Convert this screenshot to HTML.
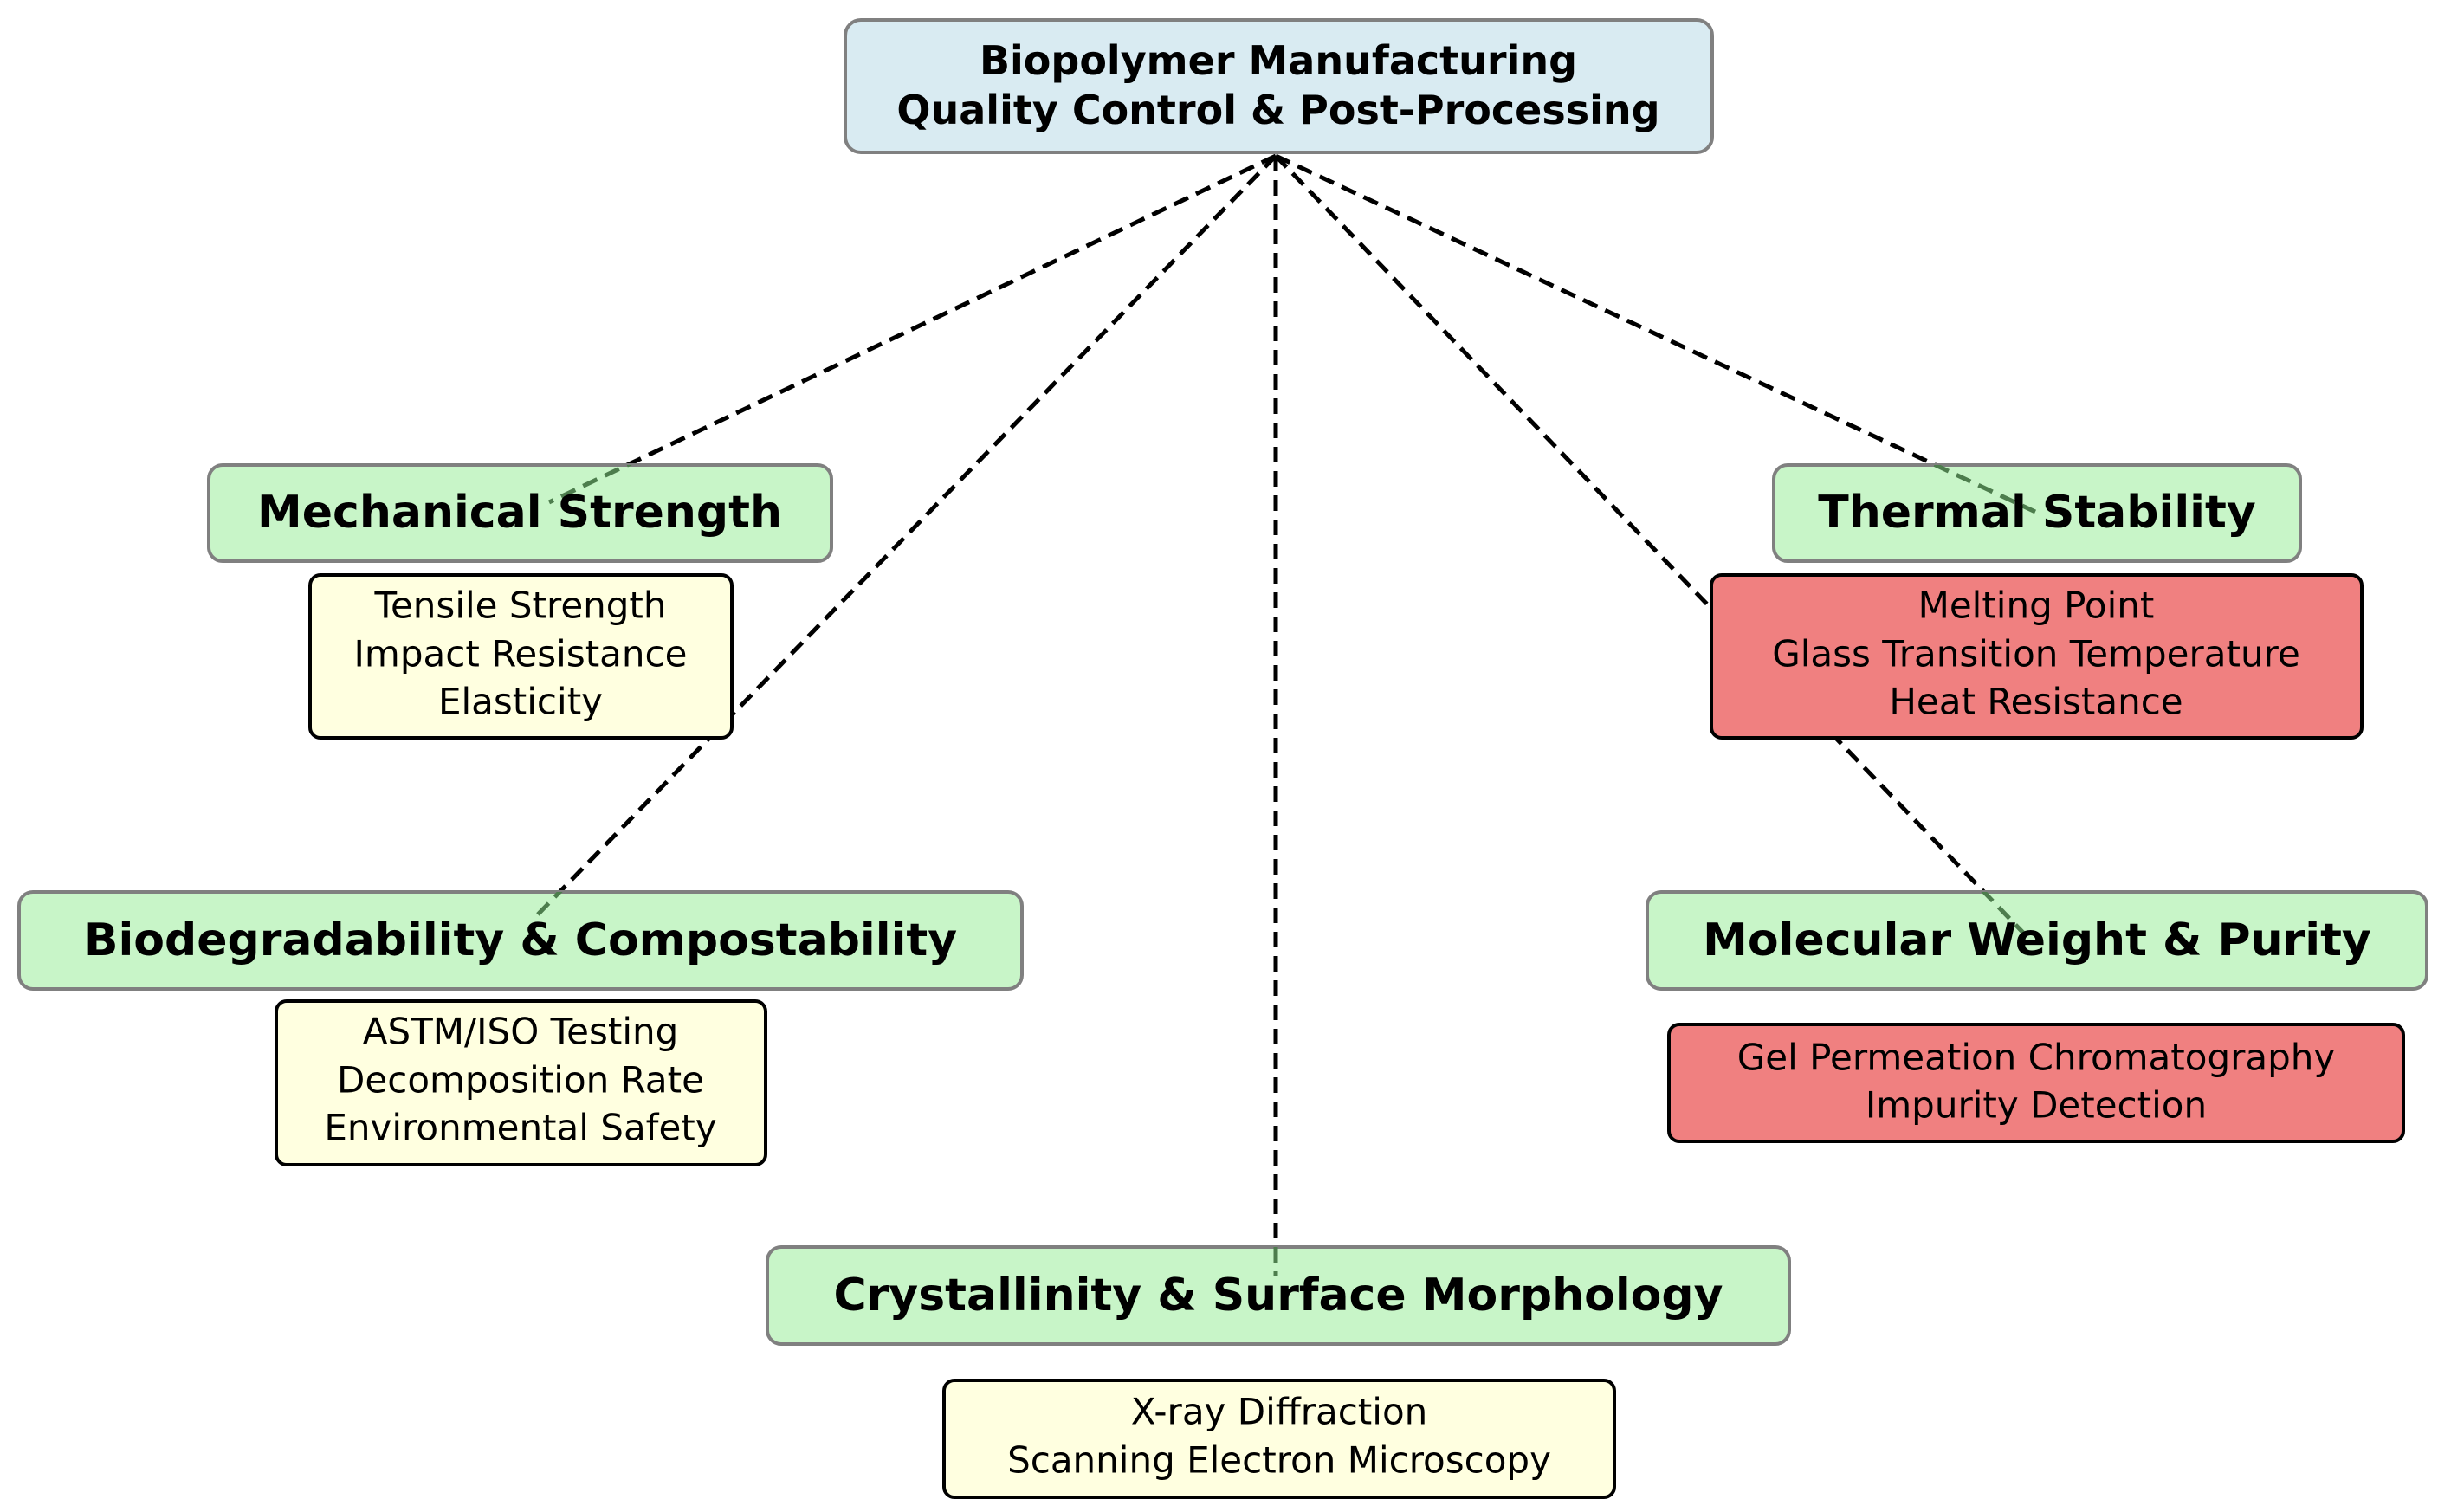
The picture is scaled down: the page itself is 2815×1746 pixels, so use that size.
<!DOCTYPE html>
<html><head><meta charset="utf-8"><style>
html,body{margin:0;padding:0;background:#fff}
svg{display:block}
text{font-family:"DejaVu Sans","Liberation Sans",sans-serif;text-anchor:middle;dominant-baseline:central}
.b{font-weight:bold}
</style></head><body>
<svg width="2815" height="1746" viewBox="0 0 2815 1746" xmlns="http://www.w3.org/2000/svg">
<defs>
<clipPath id="c1"><rect x="241" y="537" width="719" height="111" rx="16"/></clipPath>
<clipPath id="c2"><rect x="22" y="1030" width="1158" height="112" rx="16"/></clipPath>
<clipPath id="c3"><rect x="886" y="1440" width="1180" height="112" rx="16"/></clipPath>
<clipPath id="c4"><rect x="2048" y="537" width="608" height="111" rx="16"/></clipPath>
<clipPath id="c5"><rect x="1902" y="1030" width="900" height="112" rx="16"/></clipPath>
</defs>
<g stroke="#000" stroke-width="5" stroke-dasharray="18,10" fill="none">
<line x1="1473" y1="180" x2="634" y2="580"/>
<line x1="1473" y1="180" x2="618" y2="1059"/>
<line x1="1473" y1="180" x2="1473" y2="1473"/>
<line x1="1473" y1="180" x2="2350" y2="591"/>
<line x1="1473" y1="180" x2="2336" y2="1077"/>
</g>
<!-- top -->
<rect x="976" y="23" width="1001" height="153" rx="18" fill="#d9ebf2" stroke="#808080" stroke-width="4"/>
<text class="b" x="1476" y="70" font-size="46">Biopolymer Manufacturing</text>
<text class="b" x="1476" y="127" font-size="46">Quality Control &amp; Post-Processing</text>
<!-- green boxes -->
<g fill="#c8f5c8" stroke="#808080" stroke-width="4">
<rect x="241" y="537" width="719" height="111" rx="16"/>
<rect x="22" y="1030" width="1158" height="112" rx="16"/>
<rect x="886" y="1440" width="1180" height="112" rx="16"/>
<rect x="2048" y="537" width="608" height="111" rx="16"/>
<rect x="1902" y="1030" width="900" height="112" rx="16"/>
</g>
<g stroke="#4d7d4d" stroke-width="5" stroke-dasharray="18,10" fill="none">
<line clip-path="url(#c1)" x1="1473" y1="180" x2="634" y2="580"/>
<line clip-path="url(#c2)" x1="1473" y1="180" x2="618" y2="1059"/>
<line clip-path="url(#c3)" x1="1473" y1="180" x2="1473" y2="1473"/>
<line clip-path="url(#c4)" x1="1473" y1="180" x2="2350" y2="591"/>
<line clip-path="url(#c5)" x1="1473" y1="180" x2="2336" y2="1077"/>
</g>
<g class="b" font-size="52">
<text class="b" x="600" y="592">Mechanical Strength</text>
<text class="b" x="601" y="1086">Biodegradability &amp; Compostability</text>
<text class="b" x="1476" y="1496">Crystallinity &amp; Surface Morphology</text>
<text class="b" x="2352" y="592">Thermal Stability</text>
<text class="b" x="2352" y="1086">Molecular Weight &amp; Purity</text>
</g>
<!-- detail boxes -->
<g stroke="#000" stroke-width="4">
<rect x="358" y="664" width="487" height="188" rx="12" fill="#ffffe0"/>
<rect x="319" y="1156" width="565" height="189" rx="12" fill="#ffffe0"/>
<rect x="1090" y="1594" width="774" height="135" rx="12" fill="#ffffe0"/>
<rect x="1976" y="664" width="751" height="188" rx="12" fill="#f08080"/>
<rect x="1927" y="1183" width="848" height="135" rx="12" fill="#f08080"/>
</g>
<g font-size="42">
<text x="601" y="699">Tensile Strength</text>
<text x="601" y="755">Impact Resistance</text>
<text x="601" y="810">Elasticity</text>
<text x="601" y="1191">ASTM/ISO Testing</text>
<text x="601" y="1247">Decomposition Rate</text>
<text x="601" y="1302">Environmental Safety</text>
<text x="1477" y="1630">X-ray Diffraction</text>
<text x="1477" y="1686">Scanning Electron Microscopy</text>
<text x="2351" y="699">Melting Point</text>
<text x="2351" y="755">Glass Transition Temperature</text>
<text x="2351" y="810">Heat Resistance</text>
<text x="2351" y="1221">Gel Permeation Chromatography</text>
<text x="2351" y="1276">Impurity Detection</text>
</g>
</svg>
</body></html>
